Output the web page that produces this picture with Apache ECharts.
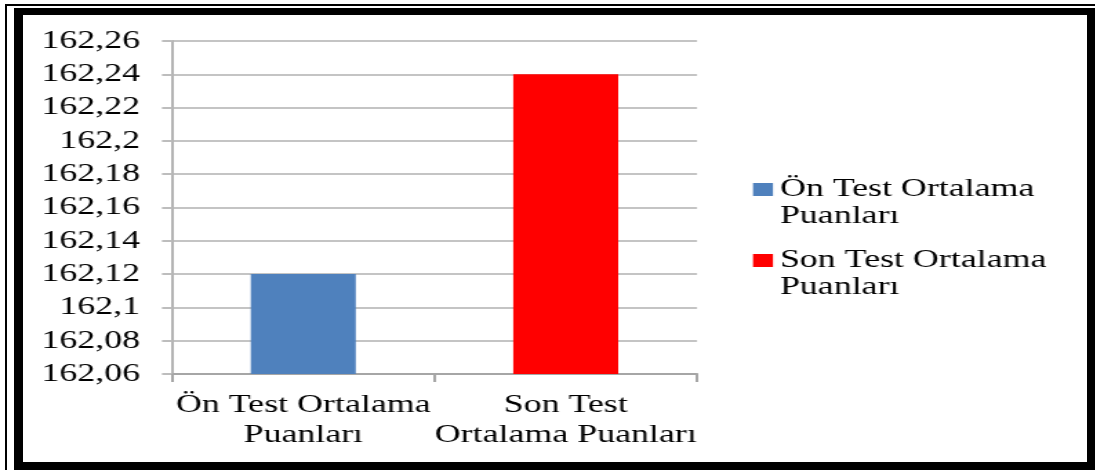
<!DOCTYPE html>
<html>
<head>
<meta charset="utf-8">
<script src="https://cdn.jsdelivr.net/npm/echarts@6/dist/echarts.min.js"></script>
<style>
  html, body { margin: 0; padding: 0; background: #fff; width: 1095px; height: 470px; overflow: hidden; position: relative; }
  #thin { position: absolute; left: 5px; top: 4px; width: 1200px; height: 600px; border-left: 2px solid #000; border-top: 2px solid #000; box-sizing: border-box; }
  #thick { position: absolute; left: 14px; top: 8px; width: 1081px; height: 462px; box-sizing: border-box;
           border-left: 9px solid #000; border-top: 7px solid #000; border-right: 8px solid #000; border-bottom: 8px solid #000; background: #fff; }
  #chart { position: absolute; left: 0; top: 0; width: 793.5px; height: 470px; transform: scaleX(1.38); transform-origin: 0 0; }
</style>
</head>
<body>
<div id="thin"></div>
<div id="thick"></div>
<div id="chart"></div>
<script>
// ---- data ----
const categories = ['Ön Test Ortalama\nPuanları', 'Son Test\nOrtalama Puanları'];
const seriesNames = ['Ön Test Ortalama\nPuanları', 'Son Test Ortalama\nPuanları'];
const seriesValues = [162.12, 162.24];
const seriesColors = ['#4F81BD', '#FF0000'];
const yMin = 162.06;
const yMax = 162.26;
const yStep = 0.02;

// ---- chart ----
const S = 1.38; // horizontal stretch of the reference picture
const chart = echarts.init(document.getElementById('chart'), null, { renderer: 'canvas' });
const font = '"Liberation Serif", "Times New Roman", serif';

const series = seriesNames.map((name, i) => ({
  name: name,
  type: 'bar',
  stack: 'all',
  barWidth: '40%',
  itemStyle: { color: seriesColors[i] },
  data: categories.map((c, j) => (j === i ? seriesValues[i] : '-'))
}));

chart.setOption({
  animation: false,
  grid: { left: 172 / S, top: 41, width: (697 - 172) / S, height: 333, containLabel: false },
  legend: {
    orient: 'vertical',
    left: 753 / S,
    top: 149,
    padding: 0,
    itemWidth: 20 / S,
    itemHeight: 13,
    itemGap: -10,
    icon: 'rect',
    formatter: name => '\n' + name,
    textStyle: { fontFamily: font, fontSize: 26, lineHeight: 27, color: '#000' },
    data: seriesNames
  },
  xAxis: {
    type: 'category',
    data: categories,
    axisLine: { lineStyle: { color: '#a6a6a6', width: 2 } },
    axisTick: { show: true, length: 8, lineStyle: { color: '#a6a6a6', width: 2 } },
    axisLabel: { fontFamily: font, fontSize: 26, lineHeight: 30, color: '#000', margin: 16, interval: 0 },
    splitLine: { show: false }
  },
  yAxis: {
    type: 'value',
    min: yMin,
    max: yMax,
    interval: yStep,
    axisLine: { show: true, lineStyle: { color: '#b4b4b4', width: 2 } },
    axisTick: { show: true, length: 10 / S, lineStyle: { color: '#bdbdbd', width: 2 } },
    axisLabel: {
      fontFamily: font, fontSize: 26, color: '#000', margin: 32 / S,
      formatter: v => String(+(+v).toFixed(2)).replace('.', ',')
    },
    splitLine: { show: true, lineStyle: { color: '#c4c4c4', width: 2 } }
  },
  series: series
});
</script>
</body>
</html>
